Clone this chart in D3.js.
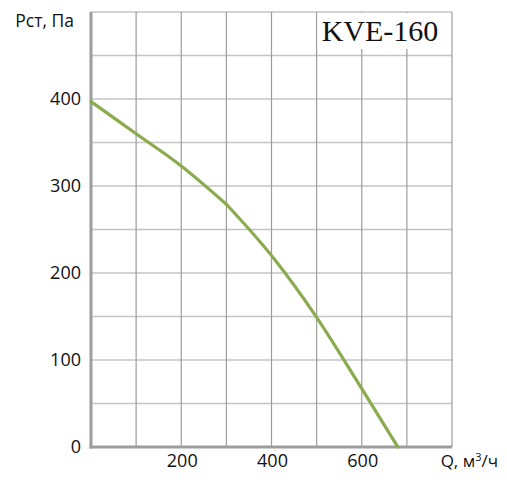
<!DOCTYPE html>
<html>
<head>
<meta charset="utf-8">
<script src="https://cdn.jsdelivr.net/npm/d3@7"></script>
<style>
  body { margin: 0; background: #fff; }
  text { font-family: "Open Sans", sans-serif; fill: #111; }
</style>
</head>
<body>
<div id="chart"></div>
<script>
'use strict';

// Fan curve data
const flowQ = [0, 100, 200, 300, 400, 500, 600, 680];
const pressureP = [397, 360, 323, 279, 220, 149, 67, 0];
const kneeIndex = 3; // the curve has a visible bend at Q = 300
const xTickValues = [200, 400, 600];
const yTickValues = [0, 100, 200, 300, 400];
const title = "KVE-160";

const width = 507, height = 480;

const svg = d3.select("#chart")
    .append("svg")
    .attr("width", width)
    .attr("height", height);

const x = d3.scaleLinear().domain([0, 800]).range([91, 452]);
const y = d3.scaleLinear().domain([0, 500]).range([447, 12]);

// horizontal grid every 50
svg.append("g")
    .selectAll("line")
    .data(d3.range(50, 501, 50))
    .enter()
    .append("line")
    .attr("x1", x(0))
    .attr("x2", x(800))
    .attr("y1", d => y(d))
    .attr("y2", d => y(d))
    .attr("stroke", "#c4c4c4")
    .attr("stroke-width", 1.5);

// vertical grid every 100
svg.append("g")
    .selectAll("line")
    .data(d3.range(100, 801, 100))
    .enter()
    .append("line")
    .attr("x1", d => x(d))
    .attr("x2", d => x(d))
    .attr("y1", y(500))
    .attr("y2", y(0))
    .attr("stroke", "#9d9d9d")
    .attr("stroke-width", 1.2);

// title box
svg.append("rect")
    .attr("x", x(500) + 1)
    .attr("y", y(500) + 1)
    .attr("width", x(800) - x(500) - 2)
    .attr("height", 36)
    .attr("fill", "#fff");

svg.append("text")
    .attr("x", 380)
    .attr("y", 41)
    .attr("text-anchor", "middle")
    .style("font-family", "'Liberation Serif', serif")
    .style("font-size", "30px")
    .text(title);

// axes lines
svg.append("line")
    .attr("x1", x(0)).attr("x2", x(0))
    .attr("y1", y(500)).attr("y2", y(0) + 1.5)
    .attr("stroke", "#9d9d9d")
    .attr("stroke-width", 3);

svg.append("line")
    .attr("x1", x(0) - 1.5).attr("x2", x(800))
    .attr("y1", y(0)).attr("y2", y(0))
    .attr("stroke", "#9d9d9d")
    .attr("stroke-width", 3);

// tick labels
svg.append("g")
    .selectAll("text")
    .data(yTickValues)
    .enter()
    .append("text")
    .attr("x", 81)
    .attr("y", d => y(d))
    .attr("dy", "0.36em")
    .attr("text-anchor", "end")
    .style("font-size", "18px")
    .text(d => d);

svg.append("g")
    .selectAll("text")
    .data(xTickValues)
    .enter()
    .append("text")
    .attr("x", d => x(d) + 1)
    .attr("y", 467)
    .attr("text-anchor", "middle")
    .style("font-size", "18px")
    .text(d => d);

// axis titles
svg.append("text")
    .attr("x", 74)
    .attr("y", 27)
    .attr("text-anchor", "end")
    .style("font-size", "17.5px")
    .text("Рст, Па");

const qLabel = svg.append("text")
    .attr("x", 498)
    .attr("y", 467)
    .attr("text-anchor", "end")
    .style("font-size", "17px");
qLabel.append("tspan").text("Q, м");
qLabel.append("tspan").attr("dy", -6).style("font-size", "11px").text("3");
qLabel.append("tspan").attr("dy", 6).text("/ч");

// curve: two smooth pieces meeting at the knee
const points = flowQ.map((q, i) => [q, pressureP[i]]);
const line = d3.line()
    .x(d => x(d[0]))
    .y(d => y(d[1]))
    .curve(d3.curveMonotoneX);

const pieces = [points.slice(0, kneeIndex + 1), points.slice(kneeIndex)];

svg.append("g")
    .selectAll("path")
    .data(pieces)
    .enter()
    .append("path")
    .attr("d", line)
    .attr("fill", "none")
    .attr("stroke", "#8bab4e")
    .attr("stroke-width", 3.2)
    .attr("stroke-linecap", "round");
</script>
</body>
</html>
